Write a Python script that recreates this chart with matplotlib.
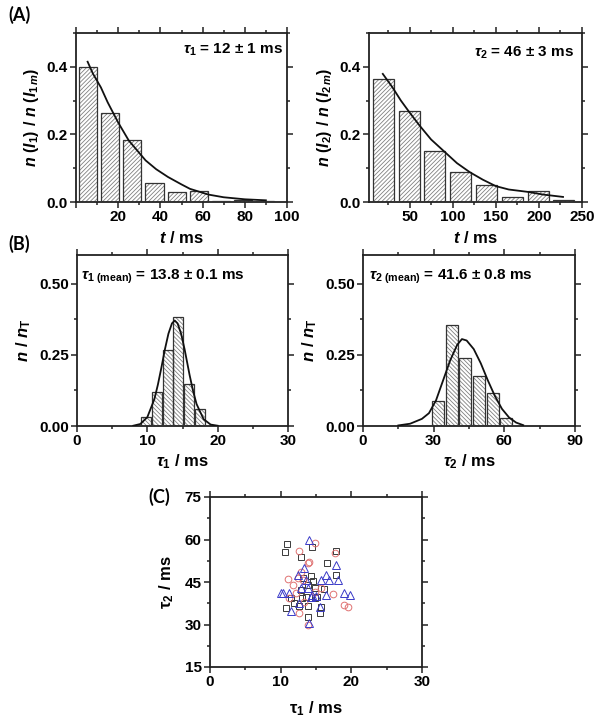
import matplotlib
matplotlib.use("Agg")
import matplotlib.pyplot as plt
from matplotlib.ticker import MultipleLocator

plt.rcParams['font.family'] = ['Liberation Sans', 'DejaVu Sans']
plt.rcParams['font.weight'] = 'bold'
plt.rcParams['axes.labelweight'] = 'bold'
plt.rcParams['mathtext.fontset'] = 'custom'
plt.rcParams['mathtext.rm'] = 'Liberation Sans:bold'
plt.rcParams['mathtext.it'] = 'Liberation Sans:bold:italic'
plt.rcParams['mathtext.bf'] = 'Liberation Sans:bold'
plt.rcParams['hatch.linewidth'] = 0.6

# ---------------- data ----------------
# Panel A left: tau1 dwell-time histogram
a1_centers = [5.7, 16.2, 26.7, 37.2, 47.7, 58.2, 68.7, 79.2, 89.7]
a1_heights = [0.400, 0.264, 0.182, 0.057, 0.030, 0.034, 0.004, 0.006, 0.004]
a1_curve_t = [5.5, 8, 11.8, 15, 20, 25, 30, 33, 38, 43.6, 50, 54, 62.7, 70, 80, 90]
a1_curve_y = [0.415, 0.38, 0.339, 0.295, 0.235, 0.182, 0.145, 0.123, 0.097, 0.074,
              0.052, 0.039, 0.022, 0.014, 0.008, 0.005]

# Panel A right: tau2 dwell-time histogram
a2_centers = [20, 49.5, 79.3, 109.6, 139, 169, 199.6, 229]
a2_heights = [0.364, 0.268, 0.152, 0.0875, 0.051, 0.015, 0.032, 0.007]
a2_curve_t = [19, 30, 40, 50, 62, 75, 90, 105, 120, 135, 150, 165, 187, 205, 228]
a2_curve_y = [0.379, 0.34, 0.30, 0.265, 0.225, 0.185, 0.15, 0.115, 0.088, 0.066,
              0.047, 0.037, 0.03, 0.022, 0.015]

# Panel B left: distribution of tau1
b1_centers = [9.8, 11.4, 12.9, 14.4, 15.9, 17.5]
b1_heights = [0.030, 0.119, 0.266, 0.383, 0.149, 0.061]
b1_curve_x = [8, 9, 10, 11, 11.5, 12, 12.5, 13, 13.5, 13.9, 14.3, 14.8, 15.3, 16,
              16.5, 17, 18, 19, 20]
b1_curve_y = [0.001, 0.007, 0.031, 0.094, 0.145, 0.205, 0.269, 0.324, 0.360, 0.370,
              0.360, 0.324, 0.269, 0.180, 0.123, 0.077, 0.024, 0.005, 0.001]

# Panel B right: distribution of tau2
b2_centers = [32.0, 37.7, 43.4, 49.4, 55.2, 60.7]
b2_heights = [0.088, 0.354, 0.237, 0.176, 0.117, 0.029]
b2_curve_x = [15, 20, 25, 28, 31, 34, 37, 40, 42, 44, 47, 50, 53, 56, 59, 62, 65, 68]
b2_curve_y = [0.002, 0.008, 0.025, 0.045, 0.09, 0.16, 0.23, 0.285, 0.305, 0.30, 0.27,
              0.22, 0.16, 0.105, 0.06, 0.03, 0.012, 0.003]

# Panel C: tau2 vs tau1 scatter (three sets)
sq_x = [10.9, 10.6, 12.9, 14.5, 17.9, 16.6, 17.9, 14.3, 13.2, 14.6, 14.8, 16.2, 12.9,
        10.7, 11.9, 12.6, 13.8, 13.9, 15.5, 15.7, 14.8, 13.0, 11.4, 13.6, 13.8, 15.2]
sq_y = [58.4, 55.7, 53.7, 57.4, 55.9, 51.6, 47.4, 47.2, 46.3, 45.3, 43.0, 42.4, 42.2,
        35.7, 37.5, 36.5, 36.5, 32.8, 34.0, 36.1, 39.2, 39.2, 39.2, 39.8, 43.9, 39.8]
ci_x = [12.6, 14.8, 13.8, 14.0, 17.7, 11.0, 12.4, 11.7, 13.1, 15.7, 17.4, 11.2, 12.6,
        13.8, 19.0, 19.5, 14.8, 12.1, 12.9, 13.3]
ci_y = [55.9, 58.8, 51.8, 52.1, 55.3, 45.9, 46.3, 43.9, 45.7, 42.8, 40.6, 39.2, 34.0,
        29.9, 36.9, 36.3, 41.6, 41.0, 48.6, 38.1]
tr_x = [14.0, 14.0, 10.4, 11.2, 11.4, 12.6, 12.9, 13.3, 12.4, 13.6, 13.8, 14.5, 15.0,
        14.3, 15.7, 16.9, 16.4, 18.1, 17.9, 16.4, 19.0, 19.8, 15.5, 10.0]
tr_y = [59.8, 30.5, 41.2, 41.2, 34.6, 37.5, 42.8, 49.8, 47.4, 45.7, 42.8, 40.4, 40.1,
        39.8, 45.7, 45.7, 47.4, 45.7, 50.9, 40.4, 41.0, 40.4, 36.3, 41.0]

# ---------------- figure ----------------
W, H = 601, 728
fig = plt.figure(figsize=(W / 100, H / 100), dpi=100)
fig.patch.set_facecolor('white')


def ax_at(l, r, t, b):
    return fig.add_axes([l / W, 1 - b / H, (r - l) / W, (b - t) / H])


def style(ax, xmaj, xmin, ymaj, ymin):
    for s in ax.spines.values():
        s.set_linewidth(1.3)
        s.set_color('#222222')
    ax.xaxis.set_major_locator(MultipleLocator(xmaj))
    ax.xaxis.set_minor_locator(MultipleLocator(xmin))
    ax.yaxis.set_major_locator(MultipleLocator(ymaj))
    ax.yaxis.set_minor_locator(MultipleLocator(ymin))
    ax.tick_params(which='both', direction='out', top=True, right=True,
                   labeltop=False, labelright=False, width=1.1, color='#222222')
    ax.tick_params(which='major', length=4, labelsize=11, pad=2)
    ax.tick_params(which='minor', length=2.3)
    for lab in ax.get_xticklabels() + ax.get_yticklabels():
        lab.set_fontweight('bold')


def hbars(ax, centers, heights, width, hatch):
    ax.bar(centers, heights, width, facecolor='white', edgecolor='#808080',
           hatch=hatch, linewidth=0, zorder=2)
    ax.bar(centers, heights, width, facecolor='none', edgecolor='#333333',
           linewidth=0.9, zorder=3)


# Panel A left
axA1 = ax_at(76, 287, 33, 202)
hbars(axA1, a1_centers, a1_heights, 8.6, '////////')
axA1.plot(a1_curve_t, a1_curve_y, color='#111111', lw=1.3, zorder=4)
axA1.set_xlim(0, 100)
axA1.set_ylim(0, 0.5)
style(axA1, 20, 10, 0.2, 0.1)
axA1.xaxis.set_major_formatter(plt.FuncFormatter(lambda v, p: '' if v < 10 else f'{v:.0f}'))
axA1.yaxis.set_major_formatter(plt.FuncFormatter(lambda v, p: f'{v:.1f}'))
axA1.set_ylabel(r'$n\ (I_1)\ /\ n\ (I_{1\,m})$', fontsize=11.5, labelpad=4)
axA1.text(0.98, 0.9, r'$\tau_1$ = 12 $\pm$ 1 ms', transform=axA1.transAxes,
          ha='right', va='center', fontsize=11, fontweight='bold')

# Panel A right
axA2 = ax_at(369, 582, 33, 202)
hbars(axA2, a2_centers, a2_heights, 24.5, '////////')
axA2.plot(a2_curve_t, a2_curve_y, color='#111111', lw=1.3, zorder=4)
axA2.set_xlim(3, 250)
axA2.set_ylim(0, 0.5)
style(axA2, 50, 25, 0.2, 0.1)
axA2.xaxis.set_major_formatter(plt.FuncFormatter(lambda v, p: '' if v < 10 else f'{v:.0f}'))
axA2.yaxis.set_major_formatter(plt.FuncFormatter(lambda v, p: f'{v:.1f}'))
axA2.set_ylabel(r'$n\ (I_2)\ /\ n\ (I_{2\,m})$', fontsize=11.5, labelpad=4)
axA2.text(0.96, 0.88, r'$\tau_2$ = 46 $\pm$ 3 ms', transform=axA2.transAxes,
          ha='right', va='center', fontsize=11, fontweight='bold')

for ax in (axA1, axA2):
    ax.set_xlabel(r'$t$ / ms', fontsize=12, labelpad=4)

# Panel B left
axB1 = ax_at(77, 288, 255, 426)
hbars(axB1, b1_centers, b1_heights, 1.38, '\\\\\\\\\\\\\\\\')
axB1.plot(b1_curve_x, b1_curve_y, color='#111111', lw=1.3, zorder=4)
axB1.set_xlim(0, 30)
axB1.set_ylim(0, 0.6)
style(axB1, 10, 5, 0.25, 0.125)
axB1.yaxis.set_major_formatter(plt.FuncFormatter(lambda v, p: f'{v:.2f}'))
axB1.set_ylabel(r'$n\ /\ n_{\mathrm{T}}$', fontsize=12, labelpad=4)
axB1.set_xlabel(r'$\tau_1$ / ms', fontsize=12, labelpad=3)
axB1.text(0.02, 0.87, r'$\tau_{1\ \mathrm{(mean)}}$ = 13.8 $\pm$ 0.1 ms',
          transform=axB1.transAxes, ha='left', va='center', fontsize=11,
          fontweight='bold')

# Panel B right
axB2 = ax_at(363, 575, 255, 426)
hbars(axB2, b2_centers, b2_heights, 5.0, '\\\\\\\\\\\\\\\\')
axB2.plot(b2_curve_x, b2_curve_y, color='#111111', lw=1.3, zorder=4)
axB2.set_xlim(0, 90)
axB2.set_ylim(0, 0.6)
style(axB2, 30, 15, 0.25, 0.125)
axB2.yaxis.set_major_formatter(plt.FuncFormatter(lambda v, p: f'{v:.2f}'))
axB2.set_ylabel(r'$n\ /\ n_{\mathrm{T}}$', fontsize=12, labelpad=4)
axB2.set_xlabel(r'$\tau_2$ / ms', fontsize=12, labelpad=3)
axB2.text(0.03, 0.87, r'$\tau_{2\ \mathrm{(mean)}}$ = 41.6 $\pm$ 0.8 ms',
          transform=axB2.transAxes, ha='left', va='center', fontsize=11,
          fontweight='bold')

# Panel C
axC = ax_at(210, 422, 497, 667)
axC.plot(sq_x, sq_y, ls='none', marker='s', ms=4.2, mfc='none', mec='#3a3a3a', mew=0.7)
axC.plot(ci_x, ci_y, ls='none', marker='o', ms=4.8, mfc='none', mec='#e07272', mew=0.7)
axC.plot(tr_x, tr_y, ls='none', marker='^', ms=5.4, mfc='none', mec='#3a3ac8', mew=0.7)
axC.set_xlim(0, 30)
axC.set_ylim(15, 75)
style(axC, 10, 5, 15, 7.5)
axC.set_xlabel('τ$_1$ / ms', fontsize=12, labelpad=7)
axC.set_ylabel('τ$_2$ / ms', fontsize=12, labelpad=6)

# Panel letters
fig.text(8 / W, 1 - 15 / H, '(A)', fontsize=13, fontweight='bold', family='Lato',
         ha='left', va='center')
fig.text(8 / W, 1 - 244 / H, '(B)', fontsize=13, fontweight='bold', family='Lato',
         ha='left', va='center')
fig.text(148 / W, 1 - 497 / H, '(C)', fontsize=13, fontweight='bold', family='Lato',
         ha='left', va='center')

fig.savefig('out.png', dpi=100, facecolor='white')
